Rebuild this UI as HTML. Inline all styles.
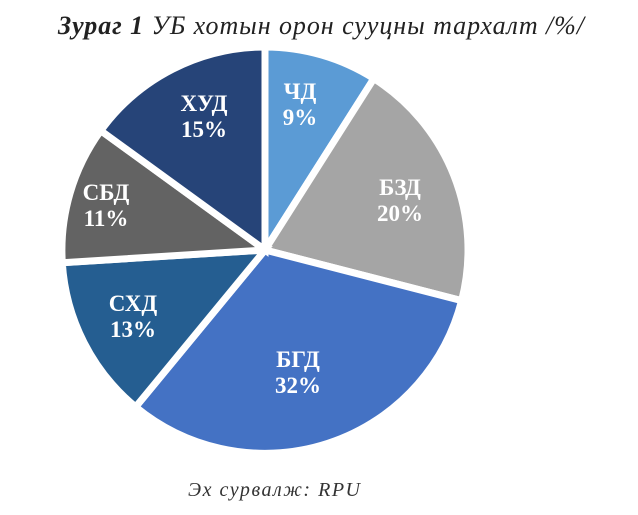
<!DOCTYPE html>
<html><head><meta charset="utf-8"><style>
body{margin:0;background:#fff;width:638px;height:510px;overflow:hidden}
</style></head><body>
<svg width="638" height="510" xmlns="http://www.w3.org/2000/svg">
<text x="321" y="34" text-anchor="middle" font-family="Liberation Serif, serif" font-style="italic" font-size="26" fill="#222" textLength="526"><tspan font-weight="bold">Зураг 1</tspan> УБ хотын орон сууцны тархалт /%/</text>
<g stroke="#fff" stroke-width="7" stroke-linejoin="miter">
<path d="M265,250 L265,47 A203,203 0 0 1 373.8,78.6 Z" fill="#5B9BD5"/>
<path d="M265,250 L373.8,78.6 A203,203 0 0 1 461.6,300.6 Z" fill="#A5A5A5"/>
<path d="M265,250 L461.6,300.6 A203,203 0 0 1 135.7,406.9 Z" fill="#4472C4"/>
<path d="M265,250 L135.7,406.9 A203,203 0 0 1 62.3,262.7 Z" fill="#255E91"/>
<path d="M265,250 L62.3,262.7 A203,203 0 0 1 100.8,130.7 Z" fill="#636363"/>
<path d="M265,250 L100.8,130.7 A203,203 0 0 1 265,47 Z" fill="#264478"/>
</g>
<g font-family="Liberation Serif, serif" font-weight="bold" font-size="23" fill="#fff" text-anchor="middle">
<text x="300" y="99">ЧД</text><text x="300" y="125">9%</text>
<text x="400" y="195">БЗД</text><text x="400" y="221">20%</text>
<text x="298" y="367">БГД</text><text x="298" y="393">32%</text>
<text x="133" y="311">СХД</text><text x="133" y="337">13%</text>
<text x="106" y="200">СБД</text><text x="106" y="226">11%</text>
<text x="204" y="111">ХУД</text><text x="204" y="137">15%</text>
</g>
<text x="274" y="496" text-anchor="middle" font-family="Liberation Serif, serif" font-style="italic" font-size="20" fill="#333" textLength="172">Эх сурвалж: RPU</text>
</svg>
</body></html>
